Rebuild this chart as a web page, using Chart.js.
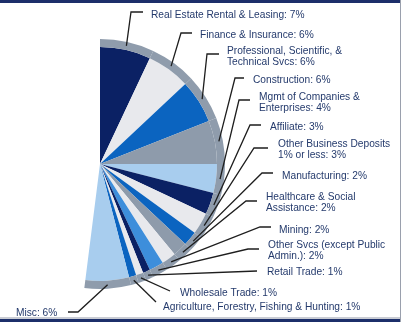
<!DOCTYPE html>
<html><head><meta charset="utf-8">
<script src="https://cdn.jsdelivr.net/npm/chart.js@4"></script>
<style>html,body{margin:0;padding:0;background:#fff;overflow:hidden}canvas{display:block}</style>
</head><body>
<canvas id="c" width="401" height="322"></canvas>
<script>
// ---- data ----
const categories = [
  "Real Estate Rental & Leasing",
  "Finance & Insurance",
  "Professional, Scientific, &\nTechnical Svcs",
  "Construction",
  "Mgmt of Companies &\nEnterprises",
  "Affiliate",
  "Other Business Deposits\n1% or less",
  "Manufacturing",
  "Healthcare & Social\nAssistance",
  "Mining",
  "Other Svcs (except Public\nAdmin.)",
  "Retail Trade",
  "Wholesale Trade",
  "Agriculture, Forestry, Fishing & Hunting",
  "Misc"
];
const shares = [7, 6, 6, 6, 4, 3, 3, 2, 2, 2, 2, 1, 1, 1, 6];
const unlabeledRest = [48]; // remainder of the pie, not drawn

// ---- styles ----
const NAVY = '#0b2164', LGRAY = '#e8e9ed', BLUE = '#0b64c0', GRAY = '#8e9bab', LBLUE = '#a8cdee', MBLUE = '#3d8edb';
const RING = '#8f9cac';
const sliceColors = [NAVY, LGRAY, BLUE, GRAY, LBLUE, NAVY, LGRAY, BLUE, GRAY, LGRAY, MBLUE, NAVY, LGRAY, BLUE, LBLUE];
const TEXT = '#243a6c';

// label placement (layout only): text anchor and leader path after the slice point
const labelLayout = [
  {tx: 151, ty: 15,  path: [[131, 12], [143, 12]]},
  {tx: 200, ty: 35,  path: [[181, 33], [192, 33]]},
  {tx: 227, ty: 51,  path: [[207, 54], [219, 54]]},
  {tx: 253, ty: 80,  path: [[235, 78], [244, 78]]},
  {tx: 259, ty: 97,  path: [[239, 100], [250, 100]]},
  {tx: 270, ty: 127, path: [[250, 125], [261, 125]]},
  {tx: 278, ty: 144, path: [[254, 148], [268, 148]]},
  {tx: 282, ty: 176, path: [[262, 173], [273, 173]]},
  {tx: 266, ty: 197, path: [[246, 201], [257, 201]]},
  {tx: 279, ty: 230, path: [[260, 227], [271, 227]]},
  {tx: 268, ty: 245, path: [[248, 249], [259, 249]]},
  {tx: 267, ty: 272, path: [[257, 271]]},
  {tx: 180, ty: 293, path: [[170, 291]]},
  {tx: 163, ty: 307, path: [[156, 302]]},
  {tx: 16,  ty: 313, path: [[78, 312], [68, 312]]}
];

const allValues = shares.concat(unlabeledRest);
const CLEAR = 'rgba(0,0,0,0)';

const framePlugin = {
  id: 'frame',
  beforeDraw(chart) {
    const ctx = chart.ctx;
    ctx.save();
    ctx.fillStyle = '#fff';
    ctx.fillRect(0, 0, chart.width, chart.height);
    ctx.restore();
  },
  afterDraw(chart) {
    const ctx = chart.ctx;
    ctx.save();
    ctx.fillStyle = '#1c2f6a';
    ctx.fillRect(0, 0, chart.width, 3);
    ctx.fillRect(0, chart.height - 3, chart.width, 3);
    ctx.fillStyle = '#c9ccd4';
    ctx.fillRect(0, chart.height - 5, chart.width, 2);
    ctx.fillStyle = '#9aa0ad';
    ctx.fillRect(chart.width - 1, 0, 1, chart.height);
    ctx.restore();
  }
};

const leaderPlugin = {
  id: 'leaders',
  afterDatasetsDraw(chart) {
    const ctx = chart.ctx;
    const ringMeta = chart.getDatasetMeta(0);
    const innerMeta = chart.getDatasetMeta(1);
    ctx.save();
    ctx.strokeStyle = '#1e1e1e';
    ctx.lineWidth = 1.3;
    ctx.font = '10.2px "Liberation Sans", Arial, sans-serif';
    ctx.fillStyle = TEXT;
    ctx.textBaseline = 'middle';
    ctx.textAlign = 'left';
    shares.forEach((v, i) => {
      const arc = innerMeta.data[i];
      const ring = ringMeta.data[i];
      const p = arc.getProps(['x', 'y', 'startAngle', 'endAngle'], true);
      const rOuter = ring.getProps(['outerRadius'], true).outerRadius;
      const mid = (p.startAngle + p.endAngle) / 2;
      const r = rOuter - 4;
      const sx = p.x + Math.cos(mid) * r, sy = p.y + Math.sin(mid) * r;
      const L = labelLayout[i];
      ctx.beginPath();
      ctx.moveTo(sx, sy);
      L.path.forEach(pt => ctx.lineTo(pt[0], pt[1]));
      ctx.stroke();
      const lines = categories[i].split('\n');
      lines[lines.length - 1] += ': ' + v + '%';
      lines.forEach((t, k) => ctx.fillText(t, L.tx, L.ty + k * 11.5));
    });
    ctx.restore();
  }
};

new Chart(document.getElementById('c'), {
  type: 'pie',
  data: {
    labels: categories.concat(['']),
    datasets: [
      {
        data: allValues,
        backgroundColor: shares.map(() => RING).concat([CLEAR]),
        borderWidth: 0,
        weight: 8
      },
      {
        data: allValues,
        backgroundColor: sliceColors.concat([CLEAR]),
        borderWidth: 0,
        weight: 117
      }
    ]
  },
  options: {
    responsive: false,
    animation: false,
    radius: 125,
    clip: false,
    layout: {padding: {left: 0, right: 201, top: 39, bottom: 33}},
    plugins: {legend: {display: false}, tooltip: {enabled: false}},
    events: []
  },
  plugins: [framePlugin, leaderPlugin]
});
</script>
</body></html>
